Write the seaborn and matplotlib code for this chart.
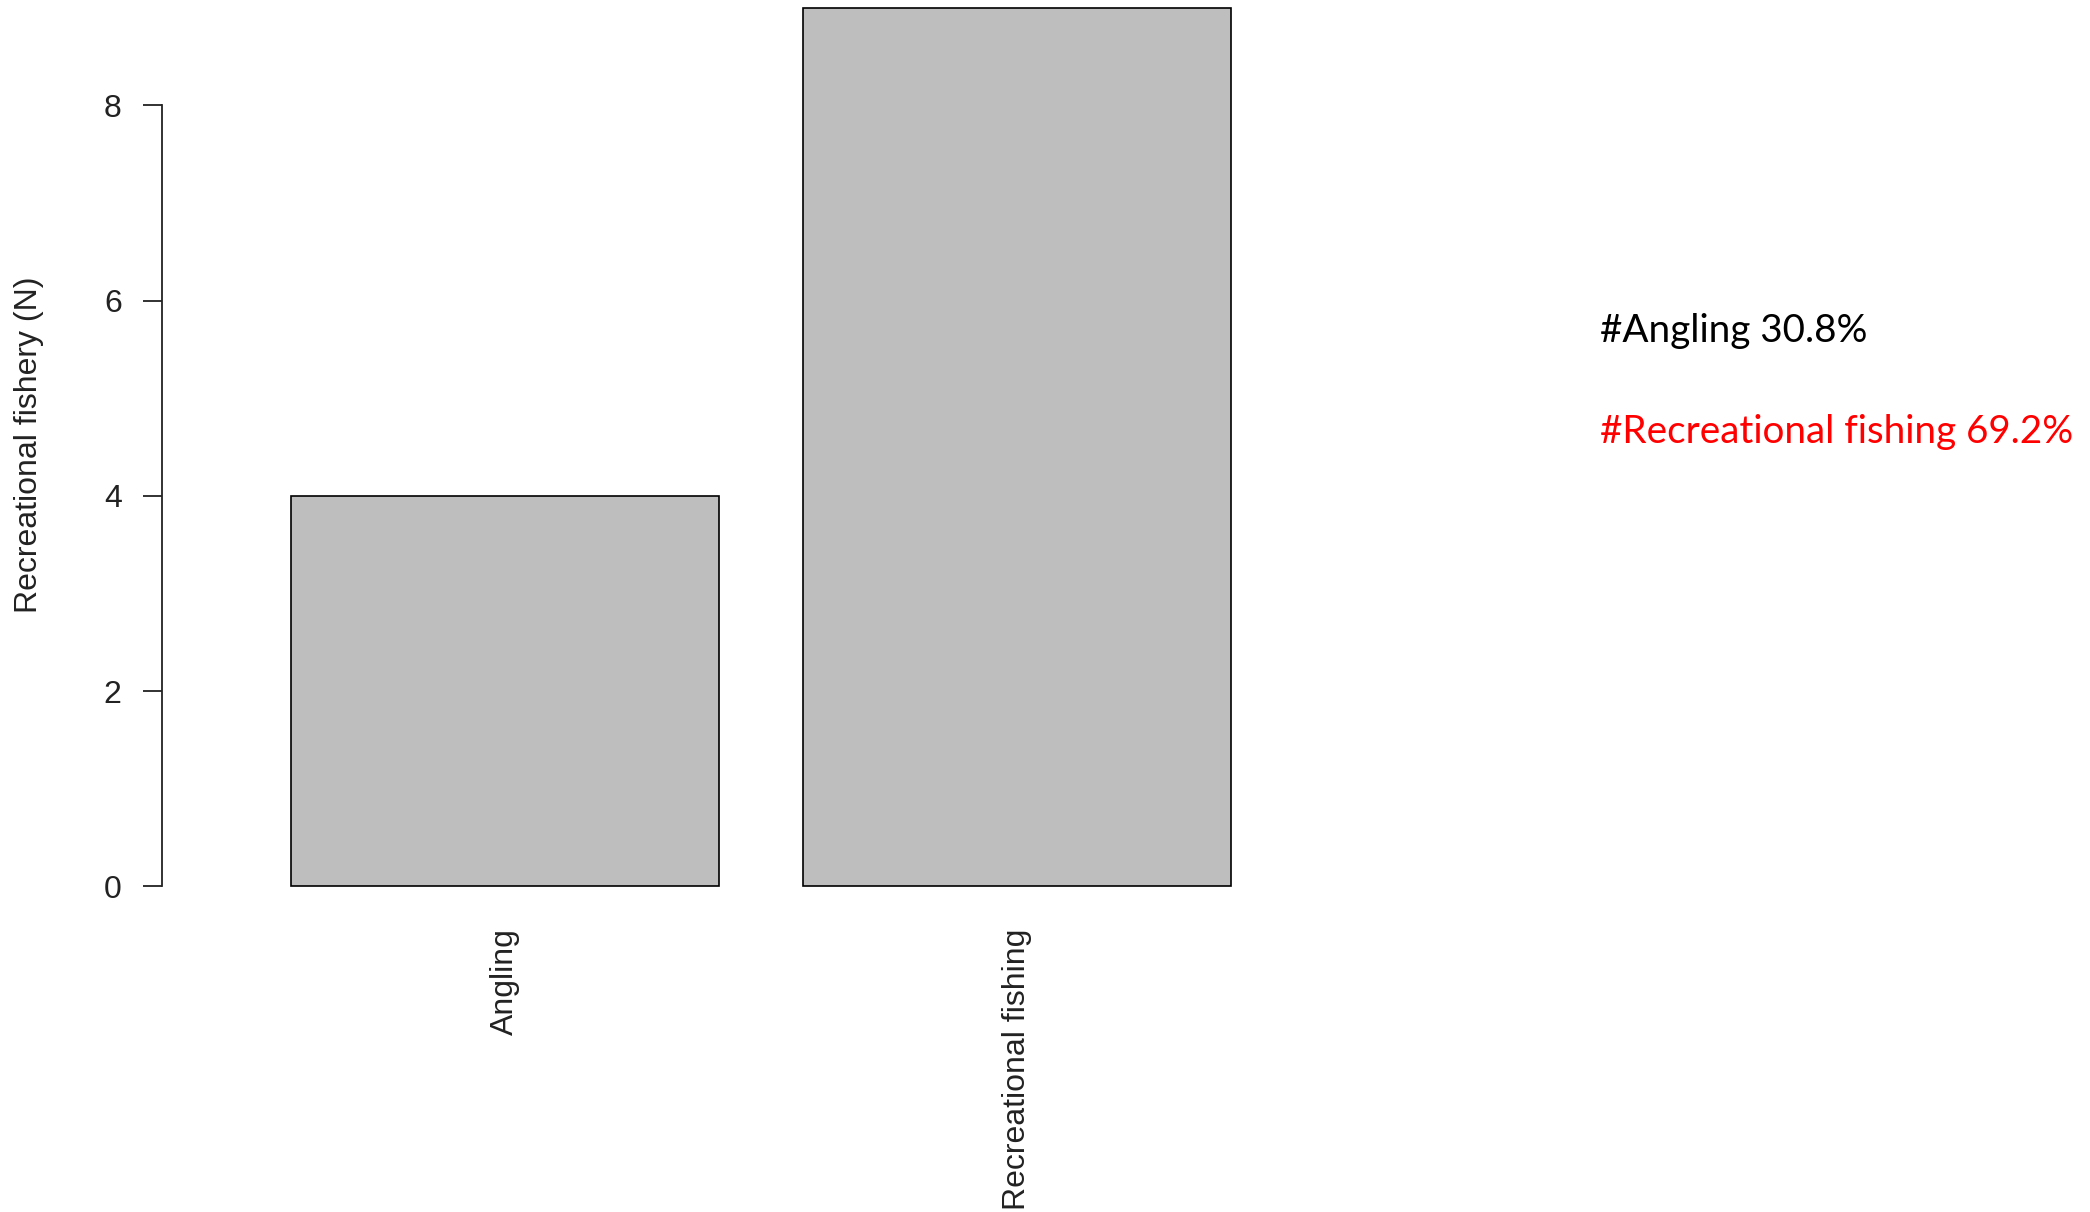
import matplotlib
matplotlib.use("Agg")
import matplotlib.pyplot as plt
import seaborn as sns
import pandas as pd

# Counts of recreational fishery types
categories = ["Angling", "Recreational fishing"]
counts = [4, 9]
share_labels = ["#Angling 30.8%", "#Recreational fishing 69.2%"]
share_colors = ["black", "#FF0000"]
y_ticks = [0, 2, 4, 6, 8]

sns.set_theme(style="white")
plt.rcParams["font.family"] = ["Liberation Sans", "DejaVu Sans"]

W, H = 2090, 1212
fig = plt.figure(figsize=(W / 100, H / 100), dpi=100)

# axes placed in pixel terms
ax_left, ax_right = 162, 1500
ax_bottom_px, ax_top_px = 921.5, 0
ax = fig.add_axes([ax_left / W, 1 - ax_bottom_px / H,
                   (ax_right - ax_left) / W, (ax_bottom_px - ax_top_px) / H])

df = pd.DataFrame({"category": categories, "count": counts})
sns.barplot(data=df, x="category", y="count", color="#BEBEBE", saturation=1,
            width=0.836, edgecolor="black", linewidth=1.2, ax=ax)

ax.set_xlim(-0.669, 1.944)
ax.set_ylim(-0.36, 9.08)

for s in ["top", "right", "bottom"]:
    ax.spines[s].set_visible(False)
ax.spines["left"].set_bounds(0, 8)
ax.spines["left"].set_color("#222222")
ax.spines["left"].set_linewidth(1.3)

ax.set_yticks(y_ticks)
ax.set_yticklabels([str(t) for t in y_ticks])
ax.tick_params(axis="y", left=True, length=14, width=1.3, color="#222222",
               pad=15, labelsize=23, labelcolor="#222222")
ax.tick_params(axis="x", bottom=False, length=0, pad=5, labelsize=23,
               labelcolor="#222222")
for lab in ax.get_xticklabels():
    lab.set_rotation(90)
    lab.set_va("top")
    lab.set_ha("center")

ax.set_xlabel("")
ax.set_ylabel("")
fig.text(29 / W, 1 - 445 / H, "Recreational fishery (N)", rotation=90,
         ha="center", va="center", fontsize=23, color="#222222")

# share annotations on the right
fig.canvas.draw()
renderer = fig.canvas.get_renderer()
probe = fig.text(0, 0, share_labels[1], fontsize=30, family=["Lato", "DejaVu Sans"])
w = probe.get_window_extent(renderer).width
probe.remove()
fs = 30 * 473 / w

baselines = [342, 443]
for lab, col, yb in zip(share_labels, share_colors, baselines):
    fig.text(1600 / W, 1 - yb / H, lab, fontsize=fs, color=col,
             ha="left", va="baseline", family=["Lato", "DejaVu Sans"])

fig.savefig("out.png", dpi=100, facecolor="white")
